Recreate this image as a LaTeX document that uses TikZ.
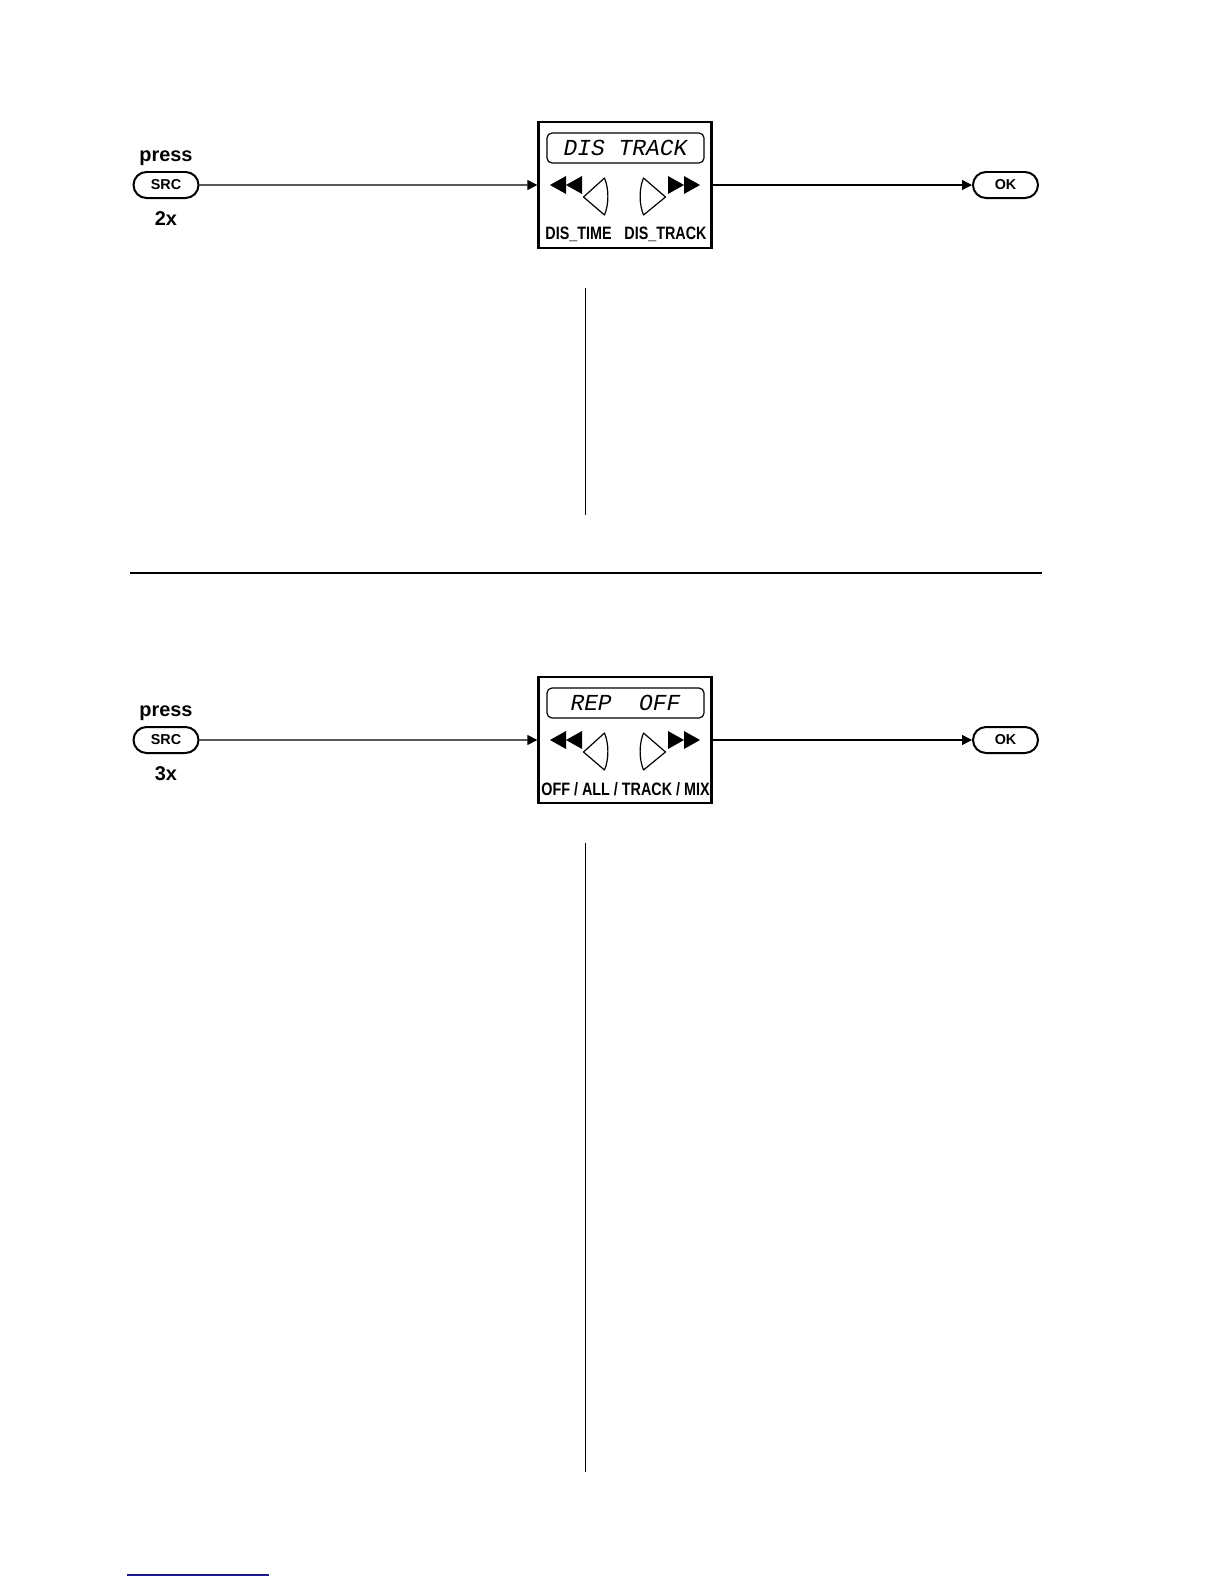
\documentclass[tikz,border=0pt]{standalone}
\usepackage{fontspec}
\setmainfont{Liberation Sans}
\newfontfamily\lcdfont{Liberation Mono}
\newfontfamily\narrowfont[FakeStretch=0.8]{Liberation Sans}
\usepackage{tikz}
\usetikzlibrary{arrows.meta,positioning,shapes.misc}
\definecolor{LinkBlue}{HTML}{1A1A8C}
\tikzset{
  key/.style={rounded rectangle, draw, line width=1pt, minimum width=32.5bp,
              minimum height=13bp, inner sep=0pt,
              font=\bfseries\fontsize{7.2}{8}\selectfont},
  caption/.style={font=\bfseries\fontsize{10}{12}\selectfont, inner sep=0pt},
  display/.style={draw, line width=1.2pt, minimum width=86.5bp,
                  minimum height=63bp, inner sep=0pt},
  lcd/.style={draw, rounded corners=2.5bp, line width=0.6pt,
              minimum width=78.5bp, minimum height=15bp, inner sep=0pt,
              font=\lcdfont\itshape\fontsize{11.5}{12}\selectfont},
  choice/.style={font=\narrowfont\bfseries\fontsize{9}{10}\selectfont,
                 inner sep=0pt},
  flow/.style={-{Triangle[length=5bp,width=5bp]}, line width=0.7pt},
  rule/.style={line width=0.8pt},
  skipkeys/.pic={
    \fill (-75,0) -- (-59,-9) -- (-59,9) -- cycle;
    \fill (-59,0) -- (-43,-9) -- (-43,9) -- cycle;
    \fill (75,0) -- (59,-9) -- (59,9) -- cycle;
    \fill (59,0) -- (43,-9) -- (43,9) -- cycle;
    \draw[line width=0.6pt, line join=round]
      (-20.5,-7) .. controls (-16,4) and (-16,19) .. (-20.5,30) -- (-41.5,12) -- cycle;
    \draw[line width=0.6pt, line join=round]
      (18.5,-7) .. controls (14,4) and (14,19) .. (18.5,30) -- (40.5,12) -- cycle;
  }
}

\begin{document}
\begin{tikzpicture}[x=0.5bp, y=-0.5bp]
  \useasboundingbox (0,0) rectangle (1224,1584);

  \node[key] (src1) at (166,185) {SRC};
  \node[caption] (press1) at (166,158) {press};
  \node[caption] (times1) at (166,219) {2x};
  \node[display] (disp1) at (625,185) {};
  \node[lcd] (lcd1) at (625.5,148) {DIS TRACK};
  \pic at (625,185) {skipkeys};
  \node[choice] (time1) at (578.5,234) {DIS\_TIME};
  \node[choice] (track1) at (665.5,234) {DIS\_TRACK};
  \node[key] (ok1) at (1005.5,185) {OK};
  \draw[flow] (src1) -- (disp1);
  \draw[flow] (disp1) -- (ok1);
  \draw[rule] (585.3,288) -- (585.3,515);

  \draw[rule] (130,573) -- (1042,573);

  \node[key] (src2) at (166,740) {SRC};
  \node[caption] (press2) at (166,713) {press};
  \node[caption] (times2) at (166,774) {3x};
  \node[display] (disp2) at (625,740) {};
  \node[lcd] (lcd2) at (625.5,703) {REP\ \ OFF};
  \pic at (625,740) {skipkeys};
  \node[choice] (rep2) at (625.5,789) {OFF / ALL / TRACK / MIX};
  \node[key] (ok2) at (1005.5,740) {OK};
  \draw[flow] (src2) -- (disp2);
  \draw[flow] (disp2) -- (ok2);
  \draw[rule] (585.3,843) -- (585.3,1472);

  \draw[LinkBlue, line width=0.8pt] (127,1575) -- (269,1575);
\end{tikzpicture}
\end{document}
